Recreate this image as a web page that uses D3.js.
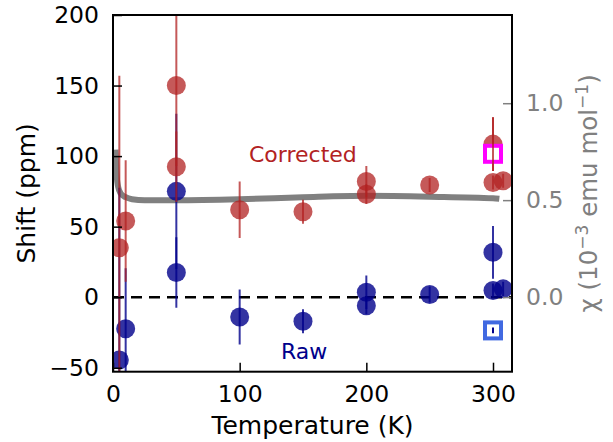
<!DOCTYPE html>
<html><head><meta charset="utf-8">
<script src="https://cdn.jsdelivr.net/npm/d3@7"></script>
<style>
body{margin:0;background:#fff;}
svg{font-family:"DejaVu Sans",sans-serif;}
</style></head>
<body><svg id="c" width="613" height="442"></svg>
<script>
// ---- data ----
const correctedT   = [5, 10, 50, 50, 100, 150, 200, 200, 250, 300, 300, 308];
const correctedVal = [35, 54, 150, 92.5, 62, 60.5, 82, 73, 79.5, 108.5, 81.3, 82.5];
const correctedErr = [122, 43, 57, 25, 20, 8.5, 11, 7, 5, 19, 5, 5];
const rawT   = [5, 10, 50, 50, 100, 150, 200, 200, 250, 300, 300, 308];
const rawVal = [-44.5, -22.4, 75, 17.5, -14, -17, 3.5, -6, 1.9, 31.8, 4.7, 5.9];
const rawErr = [122, 43, 55, 25, 19.5, 8.5, 11.8, 6, 5.6, 18.7, 5, 5];
const chiT   = [2, 2.5, 3, 4, 6, 10, 15, 25, 50, 100, 150, 200, 250, 300, 305];
const chiVal = [0.76, 0.68, 0.62, 0.57, 0.535, 0.515, 0.505, 0.5, 0.5, 0.505, 0.515, 0.522, 0.518, 0.51, 0.507];
const squareT = [300, 300];
const squareChi = [0.739, -0.172];
const squareErr = [0.0, 0.015];
const squareColors = ["#ff00ff", "#4169e1"];
const xTicks = [0, 100, 200, 300];
const yTicks = [-50, 0, 50, 100, 150, 200];
const yRTicks = [0.0, 0.5, 1.0];

const L = 113, T0 = 15, R = 512, B = 371.7;
const svg = d3.select("#c");
const x = d3.scaleLinear().domain([0, 315]).range([L, R]);
const y = d3.scaleLinear().domain([-52.8, 200]).range([B, T0]);
const yR = d3.scaleLinear().domain([-0.385, 1.455]).range([B, T0]);

svg.append("defs").append("clipPath").attr("id","clip")
  .append("rect").attr("x",L).attr("y",T0).attr("width",R-L).attr("height",B-T0);

const g = svg.append("g").attr("clip-path","url(#clip)");

// zero dashed line
g.append("line").attr("x1",L).attr("x2",R).attr("y1",y(0)).attr("y2",y(0))
  .attr("stroke","#000").attr("stroke-width",2.5).attr("stroke-dasharray","11,7");

// chi curve
const line = d3.line().x((d,i)=>x(chiT[i])).y(d=>yR(d)).curve(d3.curveMonotoneX);
g.append("path").attr("d", line(chiVal)).attr("fill","none")
  .attr("stroke","#808080").attr("stroke-width",6);

function series(Ts, vals, errs, color, op){
  const gg = g.append("g");
  gg.selectAll("line").data(vals).join("line")
    .attr("x1",(d,i)=>x(Ts[i])).attr("x2",(d,i)=>x(Ts[i]))
    .attr("y1",(d,i)=>y(d-errs[i])).attr("y2",(d,i)=>y(d+errs[i]))
    .attr("stroke",color).attr("stroke-opacity",op).attr("stroke-width",2);
  gg.selectAll("circle").data(vals).join("circle")
    .attr("cx",(d,i)=>x(Ts[i])).attr("cy",d=>y(d)).attr("r",9.5)
    .attr("fill",color).attr("fill-opacity",op);
}
series(rawT, rawVal, rawErr, "#00008b", 0.8);
series(correctedT, correctedVal, correctedErr, "#b22222", 0.75);

// squares
squareChi.forEach((v,i)=>{
  const cx = x(squareT[i]), cy = yR(v);
  g.append("rect").attr("x",cx-8).attr("y",cy-8).attr("width",16).attr("height",16)
    .attr("fill","#fff").attr("stroke",squareColors[i]).attr("stroke-width",4);
  if (squareErr[i] > 0) {
    g.append("line").attr("x1",cx).attr("x2",cx)
      .attr("y1",yR(v-squareErr[i])).attr("y2",yR(v+squareErr[i]))
      .attr("stroke","#00008b").attr("stroke-width",2);
  }
});
// red error bar of corrected 300 K point drawn over magenta square
g.append("line").attr("x1",x(correctedT[9])).attr("x2",x(correctedT[9]))
  .attr("y1",y(correctedVal[9]-correctedErr[9])).attr("y2",y(correctedVal[9]+correctedErr[9]))
  .attr("stroke","#b22222").attr("stroke-opacity",0.75).attr("stroke-width",2);

// axes
const fs = 23.5;
const ax = svg.append("g").attr("transform",`translate(0,${B})`)
  .call(d3.axisBottom(x).tickValues(xTicks).tickSizeInner(-9).tickSizeOuter(0).tickPadding(14).tickFormat(d3.format("d")));
const ay = svg.append("g").attr("transform",`translate(${L},0)`)
  .call(d3.axisLeft(y).tickValues(yTicks).tickSizeInner(-9).tickSizeOuter(0).tickPadding(14).tickFormat(d=>d<0?"\u2212"+Math.abs(d):d));
const ar = svg.append("g").attr("transform",`translate(${R},0)`)
  .call(d3.axisRight(yR).tickValues(yRTicks).tickSizeInner(-9).tickSizeOuter(0).tickPadding(14).tickFormat(d3.format(".1f")));
[ax,ay,ar].forEach(a=>{
  a.select(".domain").remove();
  a.selectAll("text").attr("font-size",fs).attr("font-family","DejaVu Sans");
  a.selectAll("line").attr("stroke-width",1.5);
});
ar.selectAll("text").attr("fill","#808080");
ar.selectAll("line").attr("stroke","#808080");

// frame
svg.append("rect").attr("x",L).attr("y",T0).attr("width",R-L).attr("height",B-T0)
  .attr("fill","none").attr("stroke","#000").attr("stroke-width",2);

// labels
svg.append("text").attr("x",(L+R)/2).attr("y",434).attr("text-anchor","middle")
  .attr("font-size",25).text("Temperature (K)");
svg.append("text").attr("transform",`translate(35,${(T0+B)/2}) rotate(-90)`)
  .attr("text-anchor","middle").attr("font-size",25).text("Shift (ppm)");
const rl = svg.append("text").attr("transform",`translate(597,${(T0+B)/2}) rotate(-90)`)
  .attr("text-anchor","middle").attr("font-size",24.5).attr("fill","#808080");
rl.append("tspan").text("\u03c7 (10");
rl.append("tspan").attr("dy",-9).attr("font-size",17).text("\u22123");
rl.append("tspan").attr("dy",9).text(" emu mol");
rl.append("tspan").attr("dy",-9).attr("font-size",17).text("\u22121");
rl.append("tspan").attr("dy",9).text(")");

svg.append("text").attr("x",249).attr("y",162).attr("font-size",22).attr("fill","#b22222").text("Corrected");
svg.append("text").attr("x",281).attr("y",359).attr("font-size",22).attr("fill","#00008b").text("Raw");
</script></body></html>
